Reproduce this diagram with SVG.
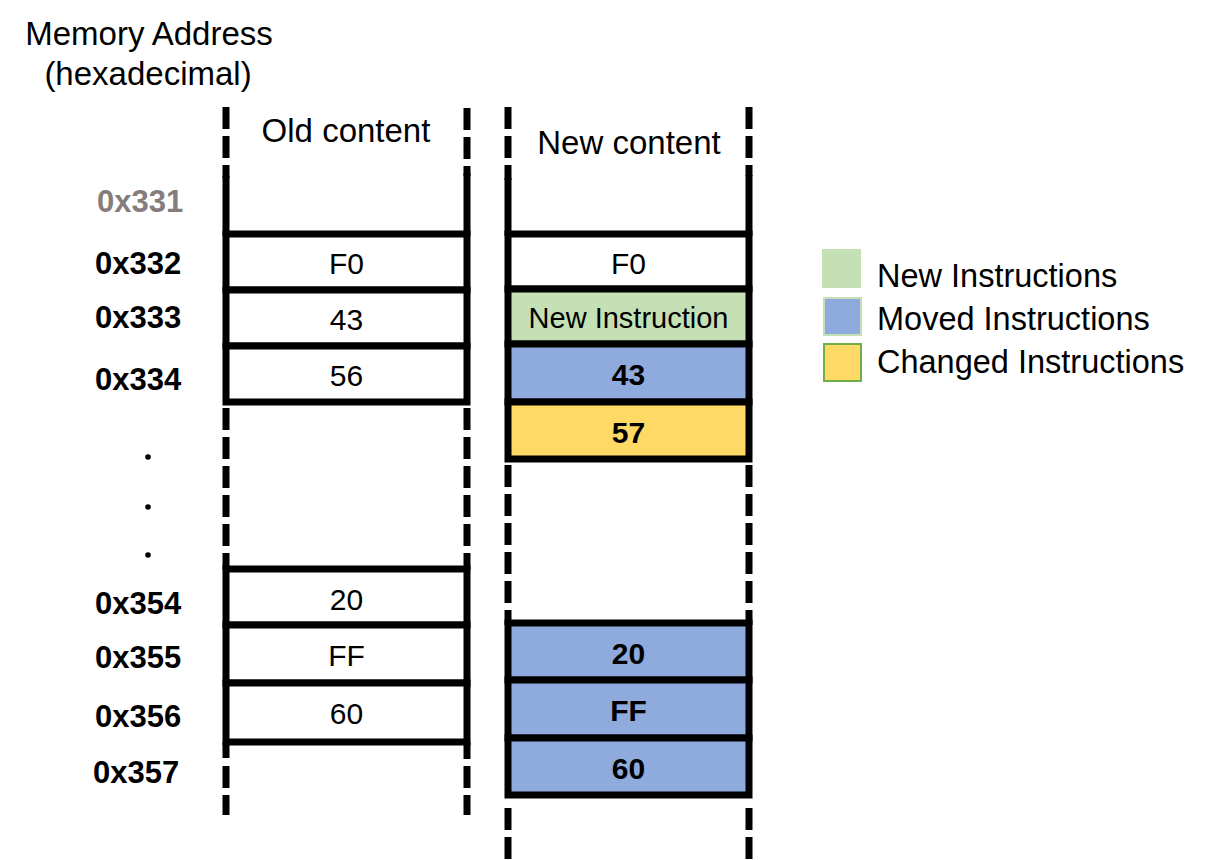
<svg xmlns="http://www.w3.org/2000/svg" width="1208" height="860" viewBox="0 0 1208 860">
<style>
text{font-family:"Liberation Sans",Arial,sans-serif;fill:#000}
.hdr{font-size:33px}
.addr{font-size:31px;font-weight:bold}
.cell{font-size:30px;text-anchor:middle}
.cellb{font-size:30px;font-weight:bold;text-anchor:middle}
.leg{font-size:32.5px}
.box{stroke:#000;stroke-width:7}
.solid{stroke:#000;stroke-width:7;fill:none}
.dash{stroke:#000;stroke-width:7;fill:none;stroke-dasharray:22 7}
.white{fill:#fff}
.green{fill:#C5E0B4}
.blue{fill:#8FAADC}
.yellow{fill:#FFD966}
</style>
<rect width="1208" height="860" fill="#fff"/>

<g id="axis-title">
<text class="hdr" x="149" y="45" text-anchor="middle">Memory Address</text>
<text class="hdr" x="148" y="85" text-anchor="middle">(hexadecimal)</text>
</g>

<g id="address-labels">
<text class="addr" x="97" y="212" style="fill:#857C7C">0x331</text>
<text class="addr" x="95" y="274">0x332</text>
<text class="addr" x="95" y="328">0x333</text>
<text class="addr" x="95" y="390">0x334</text>
<circle cx="148" cy="457" r="2.8" fill="#000"/>
<circle cx="148" cy="507" r="2.8" fill="#000"/>
<circle cx="148" cy="555" r="2.8" fill="#000"/>
<text class="addr" x="95" y="614">0x354</text>
<text class="addr" x="95" y="668">0x355</text>
<text class="addr" x="95" y="727">0x356</text>
<text class="addr" x="93" y="783">0x357</text>
</g>

<g id="connectors">
<line class="dash" x1="226" y1="107" x2="226" y2="178"/>
<line class="dash" x1="467" y1="108" x2="467" y2="176"/>
<line class="solid" x1="226" y1="176" x2="226" y2="236"/>
<line class="solid" x1="467" y1="173" x2="467" y2="236"/>
<line class="dash" x1="226" y1="408" x2="226" y2="570"/>
<line class="dash" x1="467" y1="408" x2="467" y2="570"/>
<line class="solid" x1="226" y1="742" x2="226" y2="758"/>
<line class="solid" x1="467" y1="742" x2="467" y2="759"/>
<line class="dash" x1="226" y1="766" x2="226" y2="815"/>
<line class="dash" x1="467" y1="766" x2="467" y2="815"/>
<line class="dash" x1="508" y1="107" x2="508" y2="180"/>
<line class="dash" x1="749" y1="107" x2="749" y2="176"/>
<line class="solid" x1="508" y1="178" x2="508" y2="236"/>
<line class="solid" x1="749" y1="175" x2="749" y2="236"/>
<line class="dash" x1="508" y1="465" x2="508" y2="625"/>
<line class="dash" x1="749" y1="465" x2="749" y2="625"/>
<line class="dash" x1="508" y1="808" x2="508" y2="860"/>
<line class="dash" x1="749" y1="808" x2="749" y2="860"/>
</g>

<g id="old-header"><text class="hdr" x="346" y="142" text-anchor="middle">Old content</text></g>
<g id="new-header"><text class="hdr" x="629" y="154" text-anchor="middle">New content</text></g>

<g id="old-0x332"><rect class="box white" x="226" y="234" width="241" height="56"/><text class="cell" x="346.5" y="274">F0</text></g>
<g id="old-0x333"><rect class="box white" x="226" y="290" width="241" height="56"/><text class="cell" x="346.5" y="330">43</text></g>
<g id="old-0x334"><rect class="box white" x="226" y="346" width="241" height="56"/><text class="cell" x="346.5" y="386">56</text></g>
<g id="old-0x354"><rect class="box white" x="226" y="569" width="241" height="56"/><text class="cell" x="346.5" y="610">20</text></g>
<g id="old-0x355"><rect class="box white" x="226" y="625" width="241" height="58"/><text class="cell" x="346.5" y="666">FF</text></g>
<g id="old-0x356"><rect class="box white" x="226" y="683" width="241" height="59"/><text class="cell" x="346.5" y="724">60</text></g>

<g id="new-0x332"><rect class="box white" x="508" y="234" width="241" height="55"/><text class="cell" x="628.5" y="274">F0</text></g>
<g id="new-0x333"><rect class="box green" x="508" y="289" width="241" height="55"/><text class="cell" x="628.5" y="328" style="font-size:29px">New Instruction</text></g>
<g id="new-0x334"><rect class="box blue" x="508" y="344" width="241" height="58"/><text class="cellb" x="628.5" y="385">43</text></g>
<g id="new-0x335"><rect class="box yellow" x="508" y="402" width="241" height="57"/><text class="cellb" x="628.5" y="443">57</text></g>
<g id="new-0x355"><rect class="box blue" x="508" y="623" width="241" height="57"/><text class="cellb" x="628.5" y="664">20</text></g>
<g id="new-0x356"><rect class="box blue" x="508" y="680" width="241" height="58"/><text class="cellb" x="628.5" y="721">FF</text></g>
<g id="new-0x357"><rect class="box blue" x="508" y="738" width="241" height="57"/><text class="cellb" x="628.5" y="779">60</text></g>

<g id="legend">
<rect x="822" y="249" width="39" height="39" fill="#C5E0B4"/>
<text class="leg" x="877" y="287">New Instructions</text>
<rect x="824" y="298" width="37" height="37" fill="#8FAADC" stroke="#C5E0B4" stroke-width="2"/>
<text class="leg" x="877" y="330">Moved Instructions</text>
<rect x="824" y="344" width="37" height="37" fill="#FFD966" stroke="#70AD47" stroke-width="2"/>
<text class="leg" x="877" y="373">Changed Instructions</text>
</g>
</svg>
